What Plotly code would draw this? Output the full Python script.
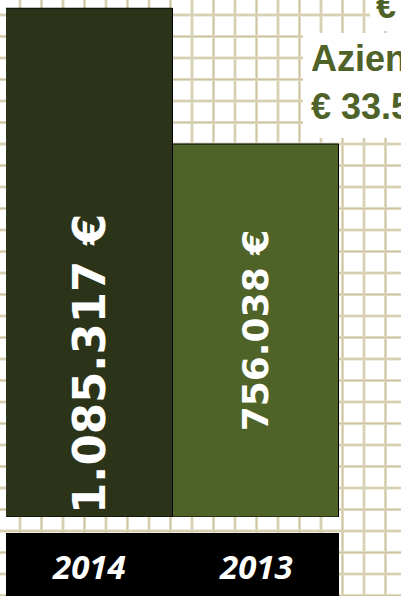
import plotly.graph_objects as go

# ---- data ----
years = ["2014", "2013"]
values = [1085317, 756038]
bar_colors = ["#2b3418", "#4f6228"]
label_sizes = [45, 36]
label_anchor = ["start", "middle"]
side_lines = ["Aziende", "€ 33.500"]
side_top = "€"

W, H = 401, 596
axis_floor = -147000  # value axis starts below zero


def fmt(v):
    return f"{v:,}".replace(",", ".") + " €"


def px(x):
    return x / W


def py(y):
    return 1 - y / H


fig = go.Figure()
for i, (yr, v) in enumerate(zip(years, values)):
    fig.add_trace(go.Bar(
        x=[i], y=[v - axis_floor], base=[axis_floor],
        marker=dict(color=bar_colors[i], line=dict(color="#000000", width=1)),
        text=[fmt(v)], textposition="inside", textangle=-90,
        insidetextanchor=label_anchor[i],
        textfont=dict(family="DejaVu Sans", size=label_sizes[i], color="white", weight="bold"),
        width=1, showlegend=False, hoverinfo="skip",
    ))

shapes = []
# background grid (paper pattern)
gx = 20.0
while gx < W + 5:
    for w, c in ((3, "#e0dac2"), (1, "#cdc5a2")):
        shapes.append(dict(type="line", xref="paper", yref="paper", x0=px(gx), x1=px(gx),
                           y0=0, y1=1, line=dict(color=c, width=w), layer="below"))
    gx += 21.5
gy = 15.0
while gy < H + 5:
    for w, c in ((3, "#e0dac2"), (1, "#cdc5a2")):
        shapes.append(dict(type="line", xref="paper", yref="paper", x0=0, x1=1,
                           y0=py(gy), y1=py(gy), line=dict(color=c, width=w), layer="below"))
    gy += 21.5

# white boxes behind side text
shapes.append(dict(type="rect", xref="paper", yref="paper", x0=px(303), x1=1.01,
                   y0=py(138), y1=py(33), fillcolor="white", line=dict(width=0), layer="below"))
shapes.append(dict(type="rect", xref="paper", yref="paper", x0=px(370), x1=1.01,
                   y0=py(31), y1=1.01, fillcolor="white", line=dict(width=0), layer="below"))
# black category band
shapes.append(dict(type="rect", xref="paper", yref="paper", x0=px(6), x1=px(339),
                   y0=-0.01, y1=py(533), fillcolor="black", line=dict(width=0), layer="below"))

annotations = []
for i, yr in enumerate(years):
    annotations.append(dict(x=i, xref="x", y=py(566), yref="paper", text=yr, showarrow=False,
                            xanchor="center", yanchor="middle",
                            font=dict(family="Open Sans", size=33, color="white",
                                      weight="bold", style="italic")))

side_font = dict(family="Liberation Sans", size=36, color="#4f6228", weight="bold")
annotations.append(dict(x=px(309), xref="paper", y=py(58), yref="paper", text=side_lines[0],
                        showarrow=False, xanchor="left", yanchor="middle", font=side_font))
annotations.append(dict(x=px(309), xref="paper", y=py(106), yref="paper", text=side_lines[1],
                        showarrow=False, xanchor="left", yanchor="middle", font=side_font))
annotations.append(dict(x=px(374), xref="paper", y=py(5), yref="paper", text=side_top,
                        showarrow=False, xanchor="left", yanchor="middle", font=side_font))

fig.update_layout(
    width=W, height=H,
    margin=dict(l=0, r=0, t=0, b=0),
    paper_bgcolor="white", plot_bgcolor="rgba(0,0,0,0)",
    barmode="overlay", bargap=0,
    shapes=shapes, annotations=annotations,
    xaxis=dict(domain=[px(6), px(339)], range=[-0.5, 1.5],
               showgrid=False, zeroline=False, showticklabels=False, showline=False),
    yaxis=dict(domain=[py(517), py(7.5)], range=[axis_floor, values[0] + 1500],
               showgrid=False, zeroline=False, showticklabels=False, showline=False),
)

fig.write_html("out.html")
